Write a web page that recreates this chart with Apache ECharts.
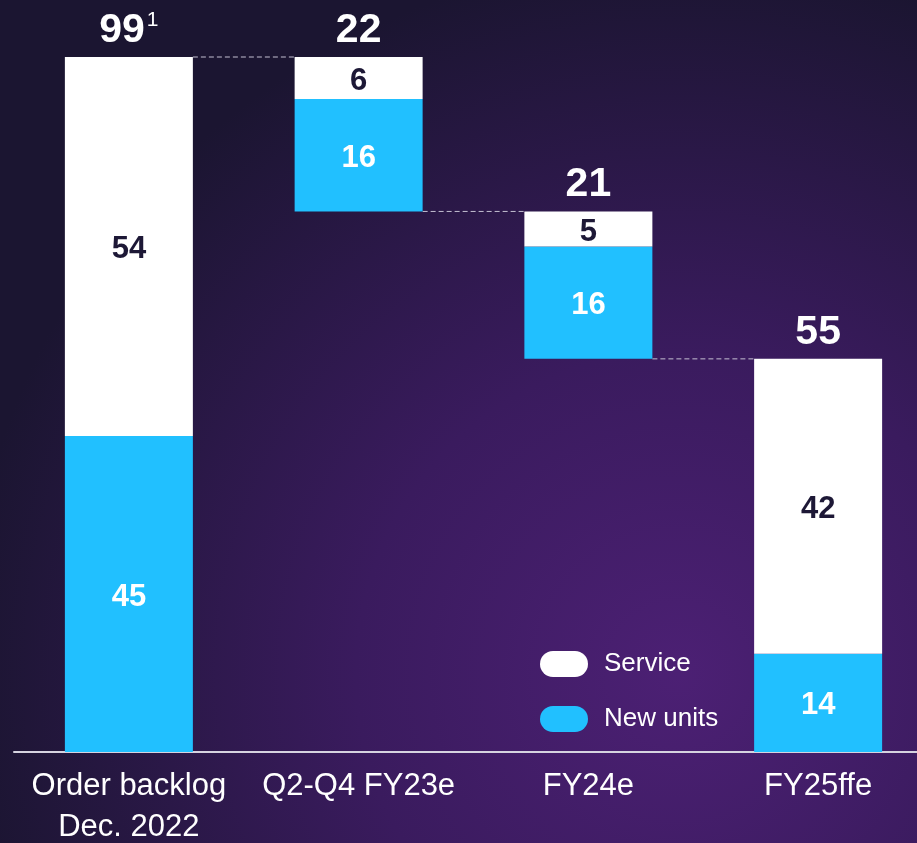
<!DOCTYPE html>
<html>
<head>
<meta charset="utf-8">
<script src="https://cdn.jsdelivr.net/npm/echarts@6/dist/echarts.min.js"></script>
<style>
  html, body { margin: 0; padding: 0; width: 100%; height: 100%; }
  #chart { width: 917px; height: 843px; }
</style>
</head>
<body>
<div id="chart"></div>
<script>
// chart data
const categories = ['Order backlog\nDec. 2022', 'Q2-Q4 FY23e', 'FY24e', 'FY25ffe']
const newUnits = [45, 16, 16, 14]
const service = [54, 6, 5, 42]
const totalLabels = ['99', '22', '21', '55']
const footnotes = ['1', '', '', '']
// which bars float (waterfall steps) and which stand on the axis
const isFloating = [false, true, true, false]

// floating base for each bar, worked out from the stacked sizes
const sizes = newUnits.map((v, i) => v + service[i])
const bases = []
let level = 0
sizes.forEach((s, i) => {
  if (!isFloating[i]) {
    bases.push(0)
    level = s
  } else {
    level = level - s
    bases.push(level)
  }
})
// connector levels: top of the next bar
const connectors = []
for (let i = 0; i < categories.length - 1; i++) {
  connectors.push([i, bases[i + 1] + sizes[i + 1]])
}

const BAR_W = 128
const myChart = echarts.init(document.getElementById('chart'))

const options = {
  backgroundColor: {
    type: 'radial',
    x: 0.74,
    y: 0.8,
    r: 0.85,
    colorStops: [
      { offset: 0, color: '#4c2074' },
      { offset: 0.45, color: '#3a1b5e' },
      { offset: 1, color: '#1b1531' }
    ]
  },
  textStyle: { fontFamily: 'Liberation Sans, Arial, sans-serif' },
  animation: false,
  grid: { left: 14, right: -16, top: 57, bottom: 91, outerBoundsMode: 'none', containLabel: false },
  legend: {
    data: ['Service', 'New units'],
    orient: 'vertical',
    left: 535,
    top: 646,
    itemWidth: 48,
    itemHeight: 27,
    itemGap: 29,
    icon: 'path://M13,0 H35 A13,13 0 0 1 35,26 H13 A13,13 0 0 1 13,0 Z',
    textStyle: { color: '#ffffff', fontSize: 26, padding: [0, 0, 0, 11] }
  },
  xAxis: {
    type: 'category',
    data: categories,
    axisLine: { lineStyle: { color: '#d6d3e0', width: 2 } },
    axisTick: { show: false },
    axisLabel: { color: '#ffffff', fontSize: 31, lineHeight: 41, margin: 14, interval: 0 }
  },
  yAxis: {
    type: 'value',
    min: 0,
    max: 99,
    show: false,
    splitLine: { show: false }
  },
  series: [
    {
      name: 'base',
      type: 'bar',
      stack: 'w',
      barWidth: BAR_W,
      itemStyle: { color: 'transparent' },
      data: bases,
      silent: true
    },
    {
      name: 'New units',
      type: 'bar',
      stack: 'w',
      barWidth: BAR_W,
      itemStyle: { color: '#21c0ff' },
      label: {
        show: true,
        position: 'inside',
        offset: [0, 3],
        color: '#ffffff',
        fontSize: 31,
        fontWeight: 'bold'
      },
      data: newUnits
    },
    {
      name: 'Service',
      type: 'bar',
      stack: 'w',
      barWidth: BAR_W,
      itemStyle: { color: '#ffffff' },
      label: {
        show: true,
        position: 'inside',
        offset: [0, 3],
        color: '#1d1836',
        fontSize: 31,
        fontWeight: 'bold'
      },
      data: service
    },
    {
      // totals above each bar
      name: 'totals',
      type: 'bar',
      stack: 'w',
      barWidth: BAR_W,
      itemStyle: { color: 'transparent' },
      data: categories.map(() => 0),
      label: {
        show: true,
        position: 'top',
        distance: 6,
        formatter: (p) => {
          const f = footnotes[p.dataIndex]
          return '{t|' + totalLabels[p.dataIndex] + '}' + (f ? '{s|' + f + '}' : '')
        },
        rich: {
          t: { color: '#ffffff', fontSize: 41, fontWeight: 'bold' },
          s: { color: '#ffffff', fontSize: 21, verticalAlign: 'top', padding: [0, 0, 14, 2] }
        }
      }
    },
    {
      name: 'connectors',
      type: 'custom',
      silent: true,
      data: connectors,
      renderItem: (params, api) => {
        const i = api.value(0)
        const y = api.value(1)
        const p0 = api.coord([i, y])
        const p1 = api.coord([i + 1, y])
        return {
          type: 'line',
          shape: { x1: p0[0] + BAR_W / 2, y1: p0[1], x2: p1[0] - BAR_W / 2, y2: p1[1] },
          style: { stroke: '#c4c0d2', lineWidth: 1, lineDash: [5, 3] }
        }
      }
    }
  ]
}

myChart.setOption(options)
</script>
</body>
</html>
